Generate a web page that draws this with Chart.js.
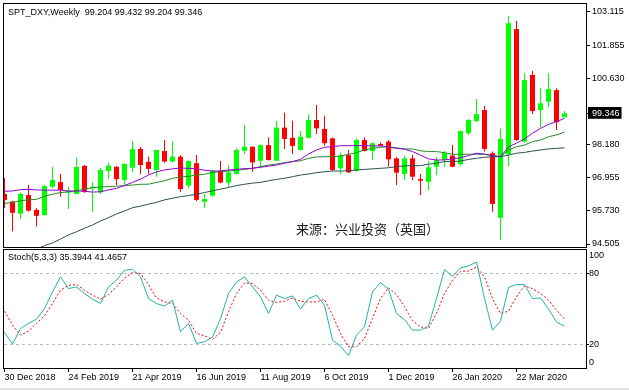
<!DOCTYPE html>
<html>
<head>
<meta charset="utf-8">
<script src="https://cdn.jsdelivr.net/npm/chart.js@4.4.0/dist/chart.umd.min.js"></script>
<style>
  html, body { margin: 0; padding: 0; background: #fff; }
  #wrap { position: relative; width: 629px; height: 390px; overflow: hidden; }
  canvas { position: absolute; left: 0; top: 0; }
  .frame { position: absolute; border: 1px solid #000; pointer-events: none; }
  .txt { position: absolute; font: 9px/11px "Liberation Sans", Arial, sans-serif; white-space: pre; color: #000; }
  #src { position: absolute; left: 296px; top: 222px; font: 13px/13px "Noto Sans CJK SC", sans-serif; color: #1a1a1a; white-space: pre; }
  #foot { position: absolute; left: 0; top: 388px; width: 629px; height: 2px; background: #e3e3e3; }
</style>
</head>
<body>
<div id="wrap">
  <canvas id="mainChart" width="629" height="390"></canvas>
  <canvas id="stochChart" width="629" height="390"></canvas>
  <div class="frame" style="left:3px;top:3px;width:582px;height:243px"></div>
  <div class="frame" style="left:3px;top:249px;width:582px;height:118px"></div>
  <div class="txt" style="left:8px;top:6.6px">SPT_DXY,Weekly  99.204 99.432 99.204 99.346</div>
  <div class="txt" style="left:8px;top:252px">Stoch(5,3,3) 35.3944 41.4657</div>
  <div id="src">来源：兴业投资（英国）</div>
  <div id="foot"></div>
</div>
<script>
/* ---------- weekly bars, 30 Dec 2018 .. 3 May 2020 ---------- */
const opens = [96.36, 96.08, 95.63, 96.32, 95.77, 95.58, 96.63, 96.80, 96.41, 96.36,
  97.40, 96.57, 96.42, 97.21, 97.37, 96.88, 97.33, 98.03, 97.55, 97.25,
  97.95, 97.56, 97.74, 96.67, 97.50, 96.07, 96.30, 97.22, 96.78, 97.10,
  97.96, 98.11, 97.59, 98.17, 97.59, 98.82, 98.44, 97.99, 98.44, 99.10,
  98.77, 98.42, 97.31, 97.80, 97.22, 98.36, 97.95, 98.21, 98.30, 97.68,
  97.10, 97.68, 96.91, 96.81, 97.37, 97.62, 97.78, 97.46, 98.61, 99.06,
  99.47, 97.87, 95.48, 97.83, 102.47, 98.30, 100.77, 99.47, 99.78, 100.21,
  99.204];
const highs = [96.95, 96.11, 96.41, 96.69, 95.84, 96.69, 97.37, 97.10, 96.62, 97.70,
  97.43, 96.79, 97.33, 97.52, 97.40, 97.49, 98.32, 98.11, 97.74, 98.01,
  98.36, 98.30, 97.80, 97.60, 97.80, 96.36, 97.25, 97.58, 97.41, 98.05,
  98.92, 98.13, 98.19, 98.46, 99.06, 99.37, 99.07, 98.69, 99.31, 99.66,
  99.26, 98.45, 97.90, 97.99, 98.42, 98.45, 98.27, 98.27, 98.36, 97.72,
  97.78, 97.80, 97.10, 97.59, 97.74, 97.95, 98.17, 98.71, 99.14, 99.88,
  99.62, 97.93, 98.79, 102.96, 102.77, 100.83, 100.92, 100.30, 100.83, 100.28,
  99.432];
const lows = [95.83, 94.98, 95.43, 95.71, 95.15, 95.56, 96.57, 96.26, 95.80, 96.34,
  96.40, 95.70, 96.36, 96.94, 96.69, 96.67, 97.16, 97.09, 97.10, 97.00,
  97.52, 97.52, 96.44, 96.57, 96.10, 95.83, 96.26, 96.76, 96.63, 97.08,
  97.84, 97.18, 97.31, 97.60, 97.57, 98.03, 97.83, 97.97, 98.42, 98.58,
  98.15, 97.21, 97.10, 97.14, 97.18, 97.93, 97.62, 98.13, 97.37, 96.69,
  96.88, 96.88, 96.32, 96.51, 97.06, 97.37, 97.35, 97.41, 98.55, 99.02,
  97.93, 95.70, 94.65, 97.40, 98.32, 98.27, 99.32, 98.82, 99.59, 98.73,
  99.204];
const closes = [96.14, 95.66, 96.36, 95.74, 95.55, 96.65, 96.88, 96.51, 96.47, 97.36,
  96.43, 96.63, 97.25, 97.41, 96.91, 97.47, 98.02, 97.43, 97.29, 97.99,
  97.56, 97.74, 96.54, 97.58, 96.14, 96.17, 97.22, 96.78, 97.16, 97.99,
  98.11, 97.53, 98.17, 97.62, 98.82, 98.40, 98.14, 98.48, 99.10, 98.79,
  98.24, 97.25, 97.78, 97.16, 98.36, 97.95, 98.24, 98.15, 97.64, 97.15,
  97.68, 97.00, 96.85, 97.35, 97.62, 97.87, 97.37, 98.69, 99.10, 99.32,
  98.03, 95.99, 98.40, 102.69, 98.36, 100.58, 99.43, 99.72, 100.25, 99.02,
  99.346];

// moving averages as plotted on the price window
const maPurple = [96.46, 96.47, 96.52, 96.53, 96.51, 96.50, 96.50, 96.50, 96.47, 96.47,
  96.46, 96.43, 96.44, 96.51, 96.57, 96.67, 96.79, 96.91, 97.06, 97.18,
  97.25, 97.29, 97.32, 97.31, 97.29, 97.24, 97.21, 97.21, 97.25, 97.27,
  97.30, 97.31, 97.35, 97.39, 97.43, 97.50, 97.56, 97.64, 97.84, 97.99,
  98.09, 98.11, 98.15, 98.15, 98.15, 98.15, 98.14, 98.14, 98.10, 98.05,
  98.02, 97.93, 97.80, 97.66, 97.62, 97.62, 97.66, 97.70, 97.78, 97.87,
  97.84, 97.78, 97.74, 98.11, 98.24, 98.40, 98.61, 98.79, 98.94, 99.04,
  99.16];
const maGreen = [96.01, 96.05, 96.11, 96.14, 96.16, 96.28, 96.35, 96.41, 96.44, 96.48,
  96.54, 96.59, 96.62, 96.63, 96.65, 96.67, 96.69, 96.72, 96.72, 96.79,
  96.85, 96.94, 96.99, 97.01, 97.06, 97.09, 97.16, 97.18, 97.21, 97.24,
  97.27, 97.31, 97.37, 97.43, 97.47, 97.52, 97.56, 97.59, 97.68, 97.73,
  97.74, 97.74, 97.77, 97.83, 97.89, 97.99, 98.05, 98.09, 98.11, 98.07,
  98.03, 98.03, 97.96, 97.93, 97.93, 97.89, 97.83, 97.83, 97.83, 97.83,
  97.83, 97.78, 97.74, 97.99, 98.11, 98.17, 98.30, 98.36, 98.48, 98.55,
  98.65];
const maDark = [null, null, null, null, 94.30, 94.45, 94.54, 94.69, 94.84, 94.96,
  95.09, 95.21, 95.36, 95.48, 95.62, 95.73, 95.85, 95.91, 95.98, 96.05,
  96.14, 96.20, 96.26, 96.30, 96.35, 96.41, 96.48, 96.54, 96.60, 96.67,
  96.72, 96.76, 96.79, 96.85, 96.90, 96.94, 97.00, 97.06, 97.10, 97.15,
  97.18, 97.21, 97.21, 97.22, 97.25, 97.27, 97.29, 97.31, 97.33, 97.37,
  97.40, 97.41, 97.41, 97.46, 97.50, 97.56, 97.56, 97.58, 97.64, 97.68,
  97.72, 97.74, 97.74, 97.80, 97.87, 97.90, 97.95, 97.99, 98.03, 98.05,
  98.07];

// Stoch(5,3,3)
const stochMain = [30.2, 20.3, 33.5, 37.8, 41.4, 50.4, 64.5, 77.2, 67.3, 68.7,
  63.1, 58.3, 54.7, 68.7, 74.4, 82.8, 83.7, 77.2, 58.9, 54.7,
  52.4, 57.5, 30.7, 37.8, 20.9, 22.2, 26.2, 41.7, 63.1, 72.9,
  77.2, 68.7, 60.3, 46.2, 61.7, 58.9, 61.1, 49.9, 58.9, 61.7,
  53.2, 23.7, 18.6, 10.4, 27.9, 34.9, 64.5, 72.4, 66.8, 46.2,
  41.0, 32.1, 32.1, 35.5, 58.9, 83.4, 77.7, 84.8, 86.5, 89.8,
  58.9, 32.1, 39.7, 68.2, 70.7, 70.7, 58.9, 59.4, 49.9, 39.1,
  35.3944];
const stochSignal = [48.2, 36.3, 27.9, 31.3, 37.8, 44.2, 54.7, 65.9, 70.1, 70.7,
  65.9, 61.7, 58.3, 62.3, 68.7, 76.3, 80.9, 80.0, 70.7, 59.4,
  56.0, 54.7, 46.2, 40.6, 29.3, 27.2, 24.3, 30.2, 47.6, 63.1,
  72.1, 71.6, 65.9, 57.5, 55.5, 56.6, 59.4, 56.6, 56.0, 56.0,
  58.1, 44.8, 29.3, 18.0, 18.0, 25.1, 42.0, 58.9, 67.9, 62.3,
  52.0, 40.0, 34.9, 33.5, 46.2, 63.1, 74.4, 82.0, 82.2, 85.6,
  77.2, 58.9, 46.2, 48.2, 60.3, 69.6, 67.3, 63.1, 57.5, 49.0,
  41.4657];

// axis labels
const priceTicks = [103.115, 101.855, 100.630, 99.346, 98.180, 96.955, 95.730, 94.505];
const lastPrice = 99.346;
const stochLevels = [100, 80, 20, 0];
const xTickBars = [0, 8, 16, 24, 32, 40, 48, 56, 64];
const xTickLabels = ['30 Dec 2018', '24 Feb 2019', '21 Apr 2019', '16 Jun 2019', '11 Aug 2019',
  '6 Oct 2019', '1 Dec 2019', '26 Jan 2020', '22 Mar 2020'];

/* ---------- shared settings ---------- */
Chart.defaults.font.family = '"Liberation Sans", Arial, sans-serif';
Chart.defaults.font.size = 9;
Chart.defaults.color = '#000';

const X_MIN = -0.0625, X_MAX = 72.6875;   // 8 px per week
const up = '#00ff00', down = '#ff0000';
const candleColors = closes.map((c, i) => c >= opens[i] ? up : down);
const pts = arr => arr.map((v, i) => ({ x: i, y: v }));

function noPad(s) { s.paddingTop = 0; s.paddingBottom = 0; s.paddingLeft = 0; s.paddingRight = 0; }

const lineDs = (data, color, extra) => Object.assign({
  type: 'line', data: pts(data), borderColor: color, borderWidth: 1,
  pointRadius: 0, tension: 0, fill: false, order: 0
}, extra || {});

/* ---------- price window ---------- */
new Chart(document.getElementById('mainChart'), {
  type: 'bar',
  data: {
    datasets: [
      lineDs(maPurple, '#9400d3'),
      lineDs(maGreen, '#228b22'),
      lineDs(maDark, '#2f4f4f'),
      {
        data: closes.map((c, i) => ({ x: i, y: [opens[i], c] })),
        backgroundColor: candleColors, barThickness: 5, grouped: false,
        minBarLength: 1, borderWidth: 0, inflateAmount: 0, order: 3
      },
      {
        data: highs.map((h, i) => ({ x: i, y: [lows[i], h] })),
        backgroundColor: candleColors, barThickness: 1, grouped: false,
        borderWidth: 0, inflateAmount: 0, order: 4
      }
    ]
  },
  options: {
    responsive: false, animation: false,
    layout: { padding: { left: 4, top: 4, right: 0, bottom: 143 } },
    plugins: { legend: { display: false }, tooltip: { enabled: false } },
    scales: {
      x: { type: 'linear', min: X_MIN, max: X_MAX, offset: false, display: false },
      y: {
        position: 'right', min: 94.394, max: 103.40,
        afterBuildTicks: s => { s.ticks = priceTicks.map(v => ({ value: v })); },
        afterFit: s => { s.width = 43; noPad(s); },
        grid: { drawOnChartArea: false, drawTicks: true, tickLength: 4, tickColor: '#000' },
        border: { display: false },
        ticks: {
          autoSkip: false, padding: 2,
          callback: v => v.toFixed(3),
          color: ctx => ctx.tick && ctx.tick.value === lastPrice ? '#fff' : '#000',
          showLabelBackdrop: ctx => !!(ctx.tick && ctx.tick.value === lastPrice),
          backdropColor: '#000',
          backdropPadding: { left: 4, right: 2, top: 1, bottom: 0 }
        }
      }
    }
  }
});

/* ---------- stochastic window ---------- */
const isLevel = ctx => ctx.tick && ctx.index > 0 && ctx.index < stochLevels.length - 1;

new Chart(document.getElementById('stochChart'), {
  type: 'line',
  data: {
    datasets: [
      lineDs(stochMain, '#20b2aa'),
      lineDs(stochSignal, '#ff0000', { borderDash: [2, 2] })
    ]
  },
  options: {
    responsive: false, animation: false,
    layout: { padding: { left: 4, top: 250, right: 0, bottom: 0 } },
    plugins: { legend: { display: false }, tooltip: { enabled: false } },
    scales: {
      x: {
        type: 'linear', min: X_MIN, max: X_MAX, offset: false,
        afterBuildTicks: s => { s.ticks = xTickBars.map(v => ({ value: v })); },
        afterFit: s => { s.height = 22; noPad(s); },
        grid: { drawOnChartArea: false, drawTicks: true, tickLength: 4, tickColor: '#000' },
        border: { display: false },
        ticks: { autoSkip: false, maxRotation: 0, align: 'start', padding: 0,
                 callback: (v, i) => xTickLabels[i] }
      },
      y: {
        position: 'right', min: 0, max: 100,
        // MT4 pulls the 100 and 0 labels inside the window
        afterBuildTicks: s => {
          s.ticks = stochLevels.map(v => ({ value: v === 100 ? 95 : v === 0 ? 5 : v }));
        },
        afterFit: s => { s.width = 43; noPad(s); },
        grid: {
          drawOnChartArea: true, drawTicks: true, tickLength: 3,
          color: ctx => isLevel(ctx) ? '#c0c0c0' : 'rgba(0,0,0,0)',
          tickColor: ctx => isLevel(ctx) ? '#000' : 'rgba(0,0,0,0)',
          tickBorderDash: []
        },
        border: { display: false, dash: [3, 3] },
        ticks: { autoSkip: false, padding: 0, callback: (v, i) => String(stochLevels[i]) }
      }
    }
  }
});
</script>
</body>
</html>
